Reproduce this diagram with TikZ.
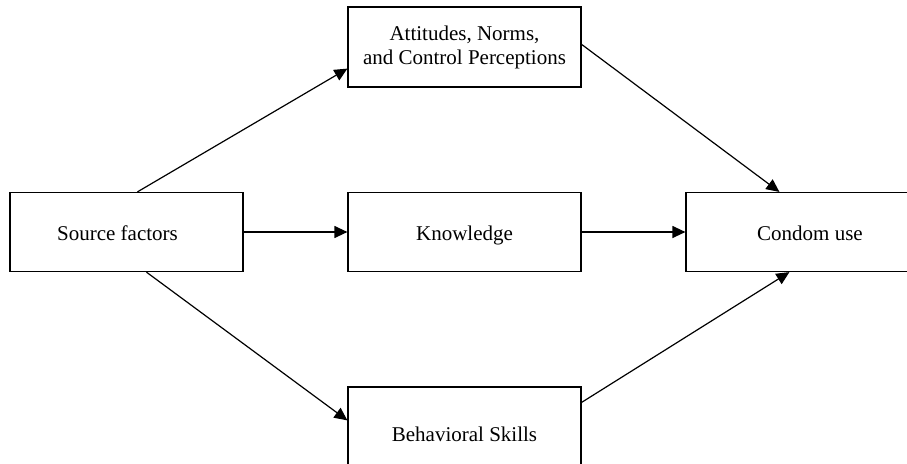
\documentclass[tikz,border=0pt]{standalone}
\usepackage{fontspec}
\setmainfont{Liberation Serif}
\usetikzlibrary{arrows.meta}
\newcommand\lowstrut{\rule[-7.2pt]{0pt}{32pt}}
\begin{document}
\begin{tikzpicture}[x=1pt,y=-1pt,
  box/.style={draw, line width=1.2pt, rectangle, inner sep=0pt, minimum width=233pt, align=center,
    font=\fontsize{21}{24}\selectfont},
  conn/.style={line width=1.2pt, -{Triangle[length=13pt,width=12pt]}}]
\clip (0,0) rectangle (907,463);
\fill[white] (0,0) rectangle (907,463);
\node[box, minimum height=79pt] (src) at (126.5,232) {Source factors\hspace*{18pt}\lowstrut};
\node[box, minimum height=80pt] (att) at (464.5,47) {Attitudes, Norms,\\and Control Perceptions};
\node[box, minimum height=79pt] (kno) at (464.5,232) {\lowstrut Knowledge};
\node[box, minimum height=79pt, minimum width=248pt] (con) at (810,232) {\lowstrut Condom use};
\node[box, minimum height=92pt] (beh) at (464.5,433) {\lowstrut Behavioral Skills};
\draw[conn] ([xshift=128pt]src.north west) -- ([yshift=19pt]att.south west);
\draw[conn] (src.east) -- (kno.west);
\draw[conn] ([xshift=137pt]src.south west) -- ([yshift=-34pt]beh.north west);
\draw[conn] ([yshift=-38pt]att.north east) -- ([xshift=94pt]con.north west);
\draw[conn] (kno.east) -- (con.west);
\draw[conn] ([yshift=-16pt]beh.north east) -- ([xshift=104pt]con.south west);
\end{tikzpicture}
\end{document}
